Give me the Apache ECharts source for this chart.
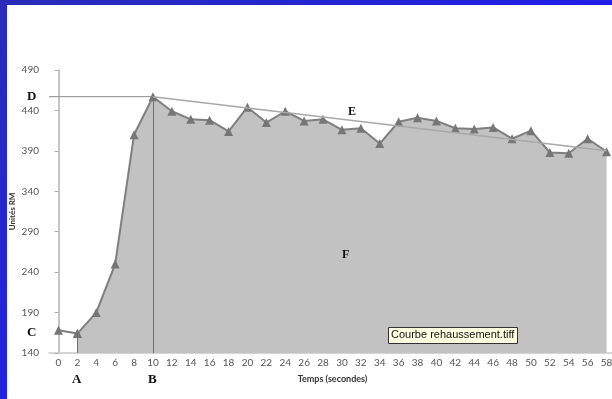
<!DOCTYPE html>
<html>
<head>
<meta charset="utf-8">
<script src="https://cdn.jsdelivr.net/npm/echarts@6/dist/echarts.min.js"></script>
<style>
  html, body { margin: 0; padding: 0; background: #fff; }
  #chart { width: 612px; height: 399px; }
</style>
</head>
<body>
<div id="chart"></div>
<script>
  // temps (s) et signal (unités RM)
  var times = ['0','2','4','6','8','10','12','14','16','18','20','22','24','26','28',
               '30','32','34','36','38','40','42','44','46','48','50','52','54','56','58'];
  var signal = [168, 164, 190, 250, 410, 457, 439, 429, 428, 414, 444, 425, 439, 427, 429,
                416, 418, 399, 426, 431, 427, 418, 417, 419, 405, 415, 388, 387, 405, 389];
  var yTicks = [140, 190, 240, 290, 340, 390, 440, 490];
  var trendEnd = 390; // fin de la droite E

  var startIdx = 1;   // point A (t = 2 s)
  var peakIdx = 5;    // point B (t = 10 s)
  var peak = signal[peakIdx];

  var pre = signal.map(function (v, i) { return i <= startIdx ? v : '-'; });
  var main = signal.map(function (v, i) { return i >= startIdx ? v : '-'; });
  // droite D : de l'axe des ordonnées jusqu'au pic (axe temps continu, -1..59 s)
  var lineD = [[-1, peak], [Number(times[peakIdx]), peak]];

  var chart = echarts.init(document.getElementById('chart'));

  var lineStyle = { color: '#7f7f7f', width: 2 };
  var itemStyle = { color: '#767676' };
  var letterFont = 'bold 13px "Liberation Serif"';

  chart.setOption({
    backgroundColor: '#fff',
    animation: false,
    grid: { left: 49, top: 70, width: 567, height: 283, outerBoundsMode: 'none' },
    xAxis: [{
      type: 'category',
      data: times,
      boundaryGap: true,
      name: 'Temps (secondes)',
      nameLocation: 'middle',
      nameGap: 22,
      nameMoveOverlap: false,
      nameTextStyle: { fontFamily: 'Lato', fontSize: 9, fontWeight: 'bold', color: '#333' },
      axisLine: { lineStyle: { color: '#c8c8c8', width: 1.5 } },
      axisTick: { show: false },
      axisLabel: { fontFamily: 'Lato', fontSize: 10, color: '#555', margin: 5, interval: 0 }
    }, {
      type: 'value',
      min: -1,
      max: 59,
      show: false
    }],
    yAxis: {
      type: 'value',
      min: yTicks[0],
      max: yTicks[yTicks.length - 1],
      interval: 50,
      name: 'Unités RM',
      nameLocation: 'middle',
      nameGap: 33,
      nameMoveOverlap: false,
      nameTextStyle: { fontFamily: 'Lato', fontSize: 8, fontWeight: 'bold', color: '#333' },
      axisLine: { show: true, lineStyle: { color: '#b0b0b0', width: 1.5 } },
      axisTick: { show: true, length: 4, lineStyle: { color: '#b0b0b0' } },
      splitLine: { show: false },
      axisLabel: { fontFamily: 'Lato', fontSize: 10, color: '#555', margin: 10 }
    },
    graphic: [
      // cadre bleu
      { type: 'rect', left: 0, top: 0, z: 100, shape: { width: 7, height: 399 },
        style: { fill: new echarts.graphic.LinearGradient(0, 0, 0, 1, [
          { offset: 0, color: '#2a2cb8' }, { offset: 1, color: '#2222dc' }]) } },
      { type: 'rect', left: 0, top: 0, z: 100, shape: { width: 612, height: 5 },
        style: { fill: new echarts.graphic.LinearGradient(0, 0, 1, 0, [
          { offset: 0, color: '#2a2cb8' }, { offset: 1, color: '#1e1ee8' }]) } },
      // lettres
      { type: 'text', z: 100, left: 27, top: 90, style: { text: 'D', font: letterFont, fill: '#111' } },
      { type: 'text', z: 100, left: 27, top: 326, style: { text: 'C', font: letterFont, fill: '#111' } },
      { type: 'text', z: 100, left: 72, top: 373, style: { text: 'A', font: letterFont, fill: '#111' } },
      { type: 'text', z: 100, left: 148, top: 373, style: { text: 'B', font: letterFont, fill: '#111' } },
      { type: 'text', z: 100, left: 348, top: 106, style: { text: 'E', font: 'bold 12px "Liberation Serif"', fill: '#111' } },
      { type: 'text', z: 100, left: 342, top: 249, style: { text: 'F', font: 'bold 12px "Liberation Serif"', fill: '#111' } },
      // étiquette du fichier
      { type: 'rect', z: 100, left: 388, top: 327, shape: { width: 129, height: 16 },
        style: { fill: '#ffffe1', stroke: '#333', lineWidth: 1 } },
      { type: 'text', z: 101, left: 391, top: 329, style: { text: 'Courbe rehaussement.tiff', font: '11px "Liberation Sans"', fill: '#111' } }
    ],
    series: [
      {
        type: 'line',
        data: pre,
        symbol: 'triangle',
        symbolSize: 9,
        lineStyle: lineStyle,
        itemStyle: itemStyle,
        z: 3
      },
      {
        type: 'line',
        data: main,
        symbol: 'triangle',
        symbolSize: 9,
        lineStyle: lineStyle,
        itemStyle: itemStyle,
        areaStyle: { color: '#c2c2c2', opacity: 1, origin: 'start' },
        z: 3,
        markLine: {
          silent: true,
          symbol: 'none',
          label: { show: false },
          animation: false,
          data: [
            [{ coord: [times[startIdx], yTicks[0]], lineStyle: { color: '#6e6e6e', width: 1, type: 'solid' } },
             { coord: [times[startIdx], signal[startIdx]] }],
            [{ coord: [times[peakIdx], yTicks[0]], lineStyle: { color: '#6e6e6e', width: 1, type: 'solid' } },
             { coord: [times[peakIdx], peak] }],
            [{ coord: [times[peakIdx], peak], lineStyle: { color: '#a8a8a8', width: 1.5, type: 'solid' } },
             { coord: [times[times.length - 1], trendEnd] }]
          ]
        }
      },
      {
        type: 'line',
        xAxisIndex: 1,
        data: lineD,
        symbol: 'none',
        silent: true,
        lineStyle: { color: '#8a8a8a', width: 1 },
        z: 2
      }
    ]
  });
</script>
</body>
</html>
